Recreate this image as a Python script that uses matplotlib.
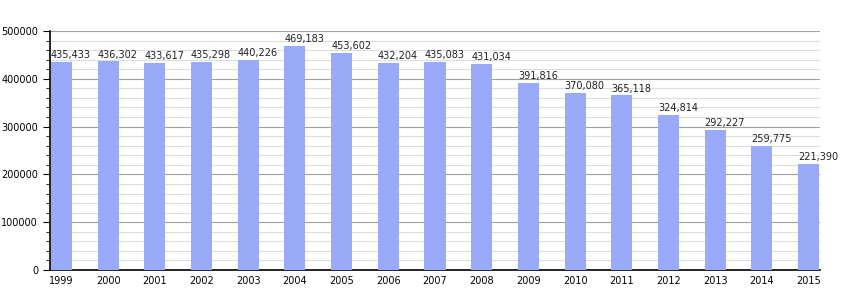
import matplotlib.pyplot as plt
from matplotlib.ticker import MultipleLocator

years = ['1999', '2000', '2001', '2002', '2003', '2004', '2005', '2006', '2007',
         '2008', '2009', '2010', '2011', '2012', '2013', '2014', '2015']
values = [435433, 436302, 433617, 435298, 440226, 469183, 453602, 432204, 435083,
          431034, 391816, 370080, 365118, 324814, 292227, 259775, 221390]

fig = plt.figure(figsize=(8.5, 3), dpi=100)
ax = fig.add_axes([50 / 850, 30 / 300, 770 / 850, 239 / 300])

width = 0.45
x = range(len(years))
bars = ax.bar(x, values, width=width, color='#99aaf9', zorder=3)

for i, v in enumerate(values):
    ax.text(i - width / 2, v + 4000, '{:,}'.format(v), ha='left', va='bottom',
            fontsize=7, color='#222222', zorder=4)

ax.set_xlim(-width / 2 - 0.02, len(years) - 1 + width / 2 + 0.02)
ax.set_ylim(0, 500000)
ax.set_xticks(list(x))
ax.set_xticklabels(years)
ax.yaxis.set_major_locator(MultipleLocator(100000))
ax.yaxis.set_minor_locator(MultipleLocator(20000))
ax.grid(axis='y', which='major', color='#a0a0a0', linewidth=0.8, zorder=0)
ax.grid(axis='y', which='minor', color='#dddddd', linewidth=0.8, zorder=0)

for side in ['top', 'right']:
    ax.spines[side].set_visible(False)
ax.spines['left'].set_linewidth(1.2)
ax.spines['bottom'].set_linewidth(1.2)
ax.tick_params(axis='x', length=0, labelsize=7, pad=4)
ax.tick_params(axis='y', which='major', length=5, labelsize=7)
ax.tick_params(axis='y', which='minor', length=3)

fig.savefig('out.png', dpi=100)
